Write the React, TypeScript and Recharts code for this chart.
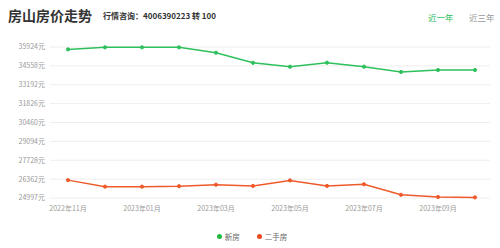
import React from 'react';
import { LineChart, Line, XAxis, YAxis, CartesianGrid, Legend } from 'recharts';

const months = ['2022年11月','2022年12月','2023年01月','2023年02月','2023年03月','2023年04月','2023年05月','2023年06月','2023年07月','2023年08月','2023年09月','2023年10月'];
const newHouse = [35750, 35900, 35900, 35900, 35510, 34780, 34500, 34790, 34500, 34120, 34260, 34260];
const secondHand = [26290, 25820, 25820, 25850, 25960, 25870, 26270, 25870, 25990, 25230, 25070, 25040];
const yTicks = [24997, 26362, 27728, 29094, 30460, 31826, 33192, 34558, 35924];

const data = months.map((m, i) => ({ month: m, newHouse: newHouse[i], secondHand: secondHand[i] }));

const GREEN = '#2ec05c';
const RED = '#ef5a2a';
const FONT = '"Noto Sans CJK SC", "Noto Sans", sans-serif';

const LegendContent = () => (
  <div style={{ display: 'flex', justifyContent: 'center', alignItems: 'center', fontSize: 7.5, color: '#666', fontFamily: FONT, paddingLeft: 4 }}>
    <span style={{ display: 'inline-block', width: 5, height: 5, borderRadius: '50%', background: '#1dbb3e', marginRight: 3 }} />
    <span style={{ marginRight: 17 }}>新房</span>
    <span style={{ display: 'inline-block', width: 5, height: 5, borderRadius: '50%', background: '#f04818', marginRight: 3 }} />
    <span>二手房</span>
  </div>
);

export default function App() {
  return (
    <div style={{ position: 'fixed', left: 0, top: 0, width: 500, height: 248, background: '#fff', fontFamily: FONT }}>
      <div style={{ position: 'absolute', left: 8, top: 6, fontSize: 14, lineHeight: '18px', fontWeight: 'bold', color: '#333' }}>房山房价走势</div>
      <div style={{ position: 'absolute', left: 103, top: 10, fontSize: 8, lineHeight: '12px', fontWeight: 'bold', color: '#333' }}>行情咨询：4006390223 转 100</div>
      <div style={{ position: 'absolute', left: 428, top: 11, fontSize: 8.5, lineHeight: '12px', color: '#2bbf5c' }}>近一年</div>
      <div style={{ position: 'absolute', left: 469, top: 11, fontSize: 8.5, lineHeight: '12px', color: '#999' }}>近三年</div>
      <div style={{ position: 'absolute', left: 0, top: 0 }}>
        <LineChart width={500} height={248} data={data} margin={{ top: 47, right: 10, bottom: 20, left: 0 }}>
          <CartesianGrid vertical={false} stroke="#eeeeee" />
          <XAxis
            dataKey="month"
            interval={1}
            axisLine={false}
            tickLine={false}
            height={30}
            padding={{ left: 18, right: 15 }}
            tick={{ fontSize: 7, fill: '#999', fontFamily: FONT }}
          />
          <YAxis
            domain={[24997, 35924]}
            ticks={yTicks}
            axisLine={false}
            tickLine={false}
            tickSize={3}
            tickMargin={2}
            width={50}
            interval={0}
            tickFormatter={(v: number) => `${v}元`}
            tick={{ fontSize: 7, fill: '#999', fontFamily: FONT }}
          />
          <Legend verticalAlign="middle" align="center" wrapperStyle={{ top: 231, left: 0, width: 500 }} content={<LegendContent />} />
          <Line type="linear" dataKey="newHouse" name="新房" stroke={GREEN} strokeWidth={1.5} dot={{ r: 1.6, fill: GREEN, stroke: GREEN, strokeWidth: 1 }} isAnimationActive={false} />
          <Line type="linear" dataKey="secondHand" name="二手房" stroke={RED} strokeWidth={1.5} dot={{ r: 1.6, fill: RED, stroke: RED, strokeWidth: 1 }} isAnimationActive={false} />
        </LineChart>
      </div>
    </div>
  );
}
